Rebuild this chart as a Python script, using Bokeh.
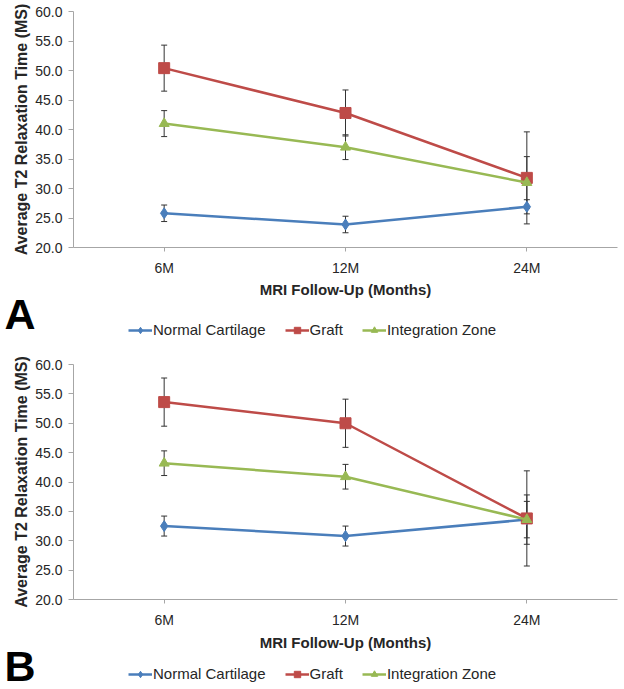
from bokeh.plotting import figure
from bokeh.models import (ColumnDataSource, FactorRange, Range1d, Whisker, TeeHead,
                          Legend, LegendItem, FixedTicker, NumeralTickFormatter)
from bokeh.layouts import column
from bokeh.embed import file_html
from bokeh.resources import INLINE

# ---------------- data ----------------
months = ["6M", "12M", "24M"]
series_names = ["Normal Cartilage", "Graft", "Integration Zone"]
y_ticks = [20, 25, 30, 35, 40, 45, 50, 55, 60]
x_title = "MRI Follow-Up (Months)"
y_title = "Average T2 Relaxation Time (MS)"

a_normal = [25.8, 23.9, 26.9]
a_normal_err = [1.4, 1.4, 1.2]
a_graft = [50.4, 42.8, 31.8]
a_graft_err = [3.9, 3.9, 7.8]
a_integ = [41.0, 37.0, 31.0]
a_integ_err = [2.2, 2.1, 4.4]

b_normal = [32.5, 30.8, 33.6]
b_normal_err = [1.7, 1.7, 3.1]
b_graft = [53.6, 50.0, 33.8]
b_graft_err = [4.1, 4.1, 8.1]
b_integ = [43.2, 40.9, 33.6]
b_integ_err = [2.1, 2.1, 4.2]

COLORS = ["#4A7EBB", "#BE4B48", "#98B954"]
MARKERS = ["diamond", "square", "triangle"]
MSIZES = [11, 11, 10]
FONT = "Liberation Sans"
TXT = "#262626"
AX = "#A6A6A6"
W = 620


def make_panel(series, errs, top_border, frame_h, bottom_border):
    p = figure(x_range=FactorRange(*months, range_padding=0), y_range=Range1d(20, 60),
               width=W, height=top_border + frame_h + bottom_border,
               frame_width=544, frame_height=frame_h,
               min_border_left=73, min_border_right=3,
               min_border_top=top_border, min_border_bottom=bottom_border,
               output_backend="svg", toolbar_location=None)
    p.outline_line_color = None
    p.xgrid.grid_line_color = None
    p.ygrid.grid_line_color = None

    p.yaxis.ticker = FixedTicker(ticks=y_ticks)
    p.yaxis.formatter = NumeralTickFormatter(format="0.0")
    p.yaxis.minor_tick_line_color = None
    for ax in (p.xaxis[0], p.yaxis[0]):
        ax.axis_line_color = AX
        ax.major_tick_line_color = AX
        ax.major_tick_in = 0
        ax.major_label_text_font = FONT
        ax.major_label_text_font_size = "14px"
        ax.major_label_text_color = TXT
        ax.axis_label_text_font = FONT
        ax.axis_label_text_font_style = "bold"
        ax.axis_label_text_color = TXT
    p.yaxis.major_tick_out = 5
    p.xaxis.major_tick_out = 4
    p.yaxis.major_label_standoff = 6
    p.xaxis.major_label_standoff = 8
    p.yaxis.axis_label = y_title
    p.yaxis.axis_label_text_font_size = "16px"
    p.yaxis.axis_label_standoff = 2

    for vals, err, col, mk, ms in zip(series, errs, COLORS, MARKERS, MSIZES):
        src = ColumnDataSource(dict(x=months, y=vals,
                                    upper=[v + e for v, e in zip(vals, err)],
                                    lower=[v - e for v, e in zip(vals, err)]))
        w = Whisker(base="x", upper="upper", lower="lower", source=src,
                    line_color="#333333", line_width=1, level="underlay",
                    upper_head=TeeHead(size=6, line_color="#333333", line_width=1),
                    lower_head=TeeHead(size=6, line_color="#333333", line_width=1))
        p.add_layout(w)
        p.line("x", "y", source=src, line_color=col, line_width=2.5)
        p.scatter("x", "y", source=src, marker=mk, size=ms,
                  fill_color=col, line_color=col)
    return p


def make_strip(letter, series, title_h, frame_h, letter_pos, legend_y):
    # strip under a panel: x-axis title, panel letter and legend.
    # legend proxies: the series values lie far outside this strip's ranges,
    # so only their legend glyphs are seen
    s = figure(x_range=Range1d(0, 1), y_range=Range1d(0, frame_h),
               width=W, height=title_h + frame_h, frame_width=544, frame_height=frame_h,
               min_border_left=73, min_border_right=3, min_border_top=title_h,
               min_border_bottom=0, x_axis_location=None, title=x_title,
               output_backend="svg", toolbar_location=None)
    s.outline_line_color = None
    s.xgrid.grid_line_color = None
    s.ygrid.grid_line_color = None
    s.title.align = "center"
    s.title.text_font = FONT
    s.title.text_font_size = "15px"
    s.title.text_font_style = "bold"
    s.title.text_color = TXT
    s.title.standoff = 0

    ya = s.yaxis[0]
    ya.ticker = FixedTicker(ticks=[letter_pos])
    ya.major_label_overrides = {letter_pos: letter}
    ya.axis_line_color = None
    ya.major_tick_line_color = None
    ya.minor_tick_line_color = None
    ya.major_tick_out = 0
    ya.major_tick_in = 0
    ya.major_label_standoff = 38
    ya.major_label_text_font = FONT
    ya.major_label_text_font_style = "bold"
    ya.major_label_text_font_size = "43px"
    ya.major_label_text_color = "black"

    items = []
    for name, vals, col, mk in zip(series_names, series, COLORS, MARKERS):
        src = ColumnDataSource(dict(x=vals, y=[-v for v in vals]))
        l = s.line("x", "y", source=src, line_color=col, line_width=2.5)
        m = s.scatter("x", "y", source=src, marker=mk, size=8,
                      fill_color=col, line_color=col)
        items.append(LegendItem(label=name, renderers=[l, m]))
    leg = Legend(items=items, orientation="horizontal", location=(55, legend_y),
                 margin=0, padding=0, spacing=19, label_standoff=1,
                 glyph_width=24, glyph_height=16, label_height=16,
                 label_text_font=FONT, label_text_font_size="15px",
                 label_text_color=TXT, border_line_color=None,
                 background_fill_alpha=0)
    s.add_layout(leg)
    return s


a_series = [a_normal, a_graft, a_integ]
b_series = [b_normal, b_graft, b_integ]
pa = make_panel(a_series, [a_normal_err, a_graft_err, a_integ_err], 11, 236, 31)
sa = make_strip("A", a_series, 18, 49, 33, 8)
pb = make_panel(b_series, [b_normal_err, b_graft_err, b_integ_err], 18, 235, 32)
sb = make_strip("B", b_series, 18, 41, 26, 9)

layout = column(pa, sa, pb, sb, spacing=0)
open("out.html", "w").write(file_html(layout, INLINE))
